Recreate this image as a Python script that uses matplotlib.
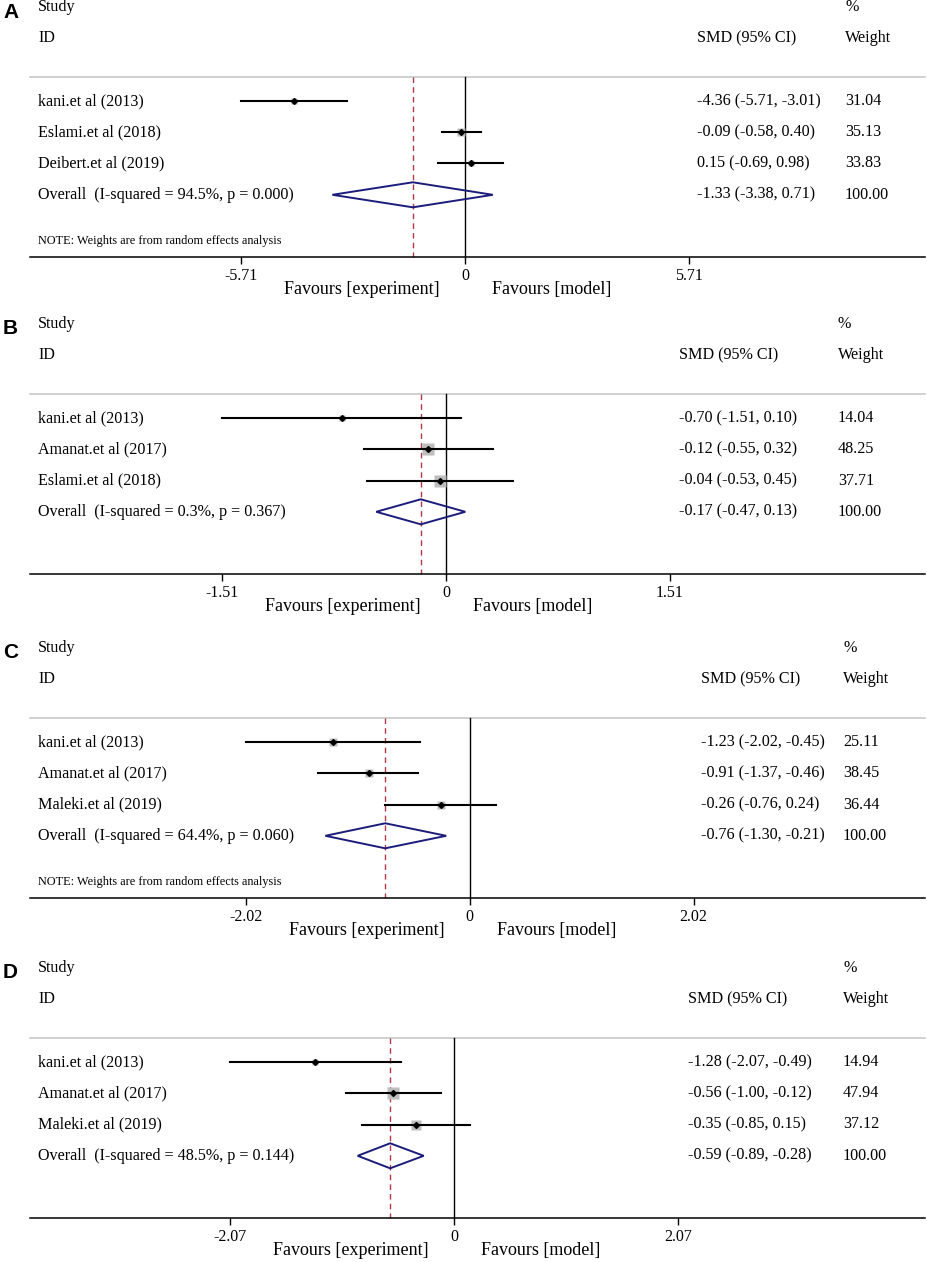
import numpy as np
import matplotlib.pyplot as plt
from matplotlib.patches import Polygon

plt.rcParams['font.family'] = ['Liberation Serif', 'DejaVu Serif']

# ---- data ----
letters = ['A', 'B', 'C', 'D']

studies_A = ['kani.et al (2013)', 'Eslami.et al (2018)', 'Deibert.et al (2019)']
smd_A = [-4.36, -0.09, 0.15]
lo_A = [-5.71, -0.58, -0.69]
hi_A = [-3.01, 0.40, 0.98]
wt_A = [31.04, 35.13, 33.83]
overall_A = [-1.33, -3.38, 0.71]
isq_A, p_A = 94.5, 0.000

studies_B = ['kani.et al (2013)', 'Amanat.et al (2017)', 'Eslami.et al (2018)']
smd_B = [-0.70, -0.12, -0.04]
lo_B = [-1.51, -0.55, -0.53]
hi_B = [0.10, 0.32, 0.45]
wt_B = [14.04, 48.25, 37.71]
overall_B = [-0.17, -0.47, 0.13]
isq_B, p_B = 0.3, 0.367

studies_C = ['kani.et al (2013)', 'Amanat.et al (2017)', 'Maleki.et al (2019)']
smd_C = [-1.23, -0.91, -0.26]
lo_C = [-2.02, -1.37, -0.76]
hi_C = [-0.45, -0.46, 0.24]
wt_C = [25.11, 38.45, 36.44]
overall_C = [-0.76, -1.30, -0.21]
isq_C, p_C = 64.4, 0.060

studies_D = ['kani.et al (2013)', 'Amanat.et al (2017)', 'Maleki.et al (2019)']
smd_D = [-1.28, -0.56, -0.35]
lo_D = [-2.07, -1.00, -0.85]
hi_D = [-0.49, -0.12, 0.15]
wt_D = [14.94, 47.94, 37.12]
overall_D = [-0.59, -0.89, -0.28]
isq_D, p_D = 48.5, 0.144

tick_max = [5.71, 1.51, 2.02, 2.07]
has_note = [True, False, True, False]

panels = [
    (studies_A, smd_A, lo_A, hi_A, wt_A, overall_A, isq_A, p_A),
    (studies_B, smd_B, lo_B, hi_B, wt_B, overall_B, isq_B, p_B),
    (studies_C, smd_C, lo_C, hi_C, wt_C, overall_C, isq_C, p_C),
    (studies_D, smd_D, lo_D, hi_D, wt_D, overall_D, isq_D, p_D),
]

# ---- layout (pixels) ----
W, H = 927, 1262
ROW = 31.3
study_px = [7, 324, 648, 968]
zero_px = [465, 446, 469.5, 454]
smd_col = [697, 679, 701, 688]
wt_col = [845, 838, 843, 843]
box_k = [1.2, 1.8, 1.45, 1.7]
AXIS_Y = 5.0
FS = 11.6

fig = plt.figure(figsize=(W / 100, H / 100), dpi=100)

for k, (names, est, lo, hi, wts, ov, isq, pval) in enumerate(panels):
    top_px = study_px[k] - 0.6 * ROW
    bot_px = study_px[k] + 9.2 * ROW
    ax = fig.add_axes([0, 1 - bot_px / H, 1, (bot_px - top_px) / H])
    ax.set_ylim(6.2, -3.6)
    s = 224 / tick_max[k]
    z = zero_px[k]
    ax.set_xlim(-z / s, (W - z) / s)
    ax.patch.set_visible(False)

    for side in ['left', 'right', 'top']:
        ax.spines[side].set_visible(False)
    ax.spines['bottom'].set_position(('data', AXIS_Y))
    ax.spines['bottom'].set_bounds((30 - z) / s, (925 - z) / s)
    ax.spines['bottom'].set_linewidth(1.1)
    ax.set_yticks([])
    t = tick_max[k]
    ax.set_xticks([-t, 0, t], ['-%.2f' % t, '0', '%.2f' % t])
    ax.tick_params(axis='x', direction='out', length=5, width=1, pad=2.5,
                   labelsize=11.5)

    trans = ax.get_yaxis_transform()
    # header
    ax.text(38 / W, -3, 'Study', transform=trans, fontsize=FS, va='center')
    ax.text(38 / W, -2, 'ID', transform=trans, fontsize=FS, va='center')
    ax.text(smd_col[k] / W, -2, 'SMD (95% CI)', transform=trans, fontsize=FS, va='center')
    ax.text(wt_col[k] / W, -3, '%', transform=trans, fontsize=FS, va='center')
    ax.text(wt_col[k] / W, -2, 'Weight', transform=trans, fontsize=FS, va='center')
    ax.plot([30 / W, 925 / W], [-0.76, -0.76], transform=trans, color='#c4c4c4', lw=1.1)

    # reference lines
    ax.plot([0, 0], [-0.76, AXIS_Y], color='black', lw=1)
    ax.plot([ov[0], ov[0]], [-0.76, AXIS_Y], color='#b03a48', lw=1,
            dashes=(4, 3))

    # studies
    rows = np.arange(len(names))
    for i in rows:
        ax.plot([lo[i], hi[i]], [i, i], color='black', lw=1.5, zorder=3)
        side_px = box_k[k] * np.sqrt(wts[i])
        ax.plot(est[i], i, marker='s', ms=side_px * 0.72, color='#bdbdbd',
                mec='none', zorder=2)
        ax.plot(est[i], i, marker='D', ms=3, color='black', zorder=4)
        ax.text(38 / W, i, names[i], transform=trans, fontsize=FS, va='center')
        ax.text(smd_col[k] / W, i, '%.2f (%.2f, %.2f)' % (est[i], lo[i], hi[i]),
                transform=trans, fontsize=FS, va='center')
        ax.text(wt_col[k] / W, i, '%.2f' % wts[i], transform=trans,
                fontsize=FS, va='center')

    # overall diamond
    yo = len(names)
    dia = Polygon([[ov[1], yo], [ov[0], yo - 0.4], [ov[2], yo], [ov[0], yo + 0.4]],
                  closed=True, fill=False, edgecolor='#1c1c7a', lw=1.4, zorder=5)
    ax.add_patch(dia)
    ax.text(38 / W, yo, 'Overall  (I-squared = %.1f%%, p = %.3f)' % (isq, pval),
            transform=trans, fontsize=FS, va='center')
    ax.text(smd_col[k] / W, yo, '%.2f (%.2f, %.2f)' % tuple(ov),
            transform=trans, fontsize=FS, va='center')
    ax.text(wt_col[k] / W, yo, '100.00', transform=trans, fontsize=FS, va='center')

    if has_note[k]:
        ax.text(38 / W, 4.48, 'NOTE: Weights are from random effects analysis',
                transform=trans, fontsize=8.8, va='center')

    ax.annotate('Favours [experiment]', xy=(0, AXIS_Y), xytext=(-25, -32),
                textcoords='offset pixels', ha='right', va='center', fontsize=13)
    ax.annotate('Favours [model]', xy=(0, AXIS_Y), xytext=(27, -32),
                textcoords='offset pixels', ha='left', va='center', fontsize=13)

    fig.text(3 / W, 1 - (study_px[k] + 5) / H, letters[k], family='Liberation Sans',
             fontweight='bold', fontsize=15, va='center', ha='left')

fig.savefig('out.png', dpi=100)
